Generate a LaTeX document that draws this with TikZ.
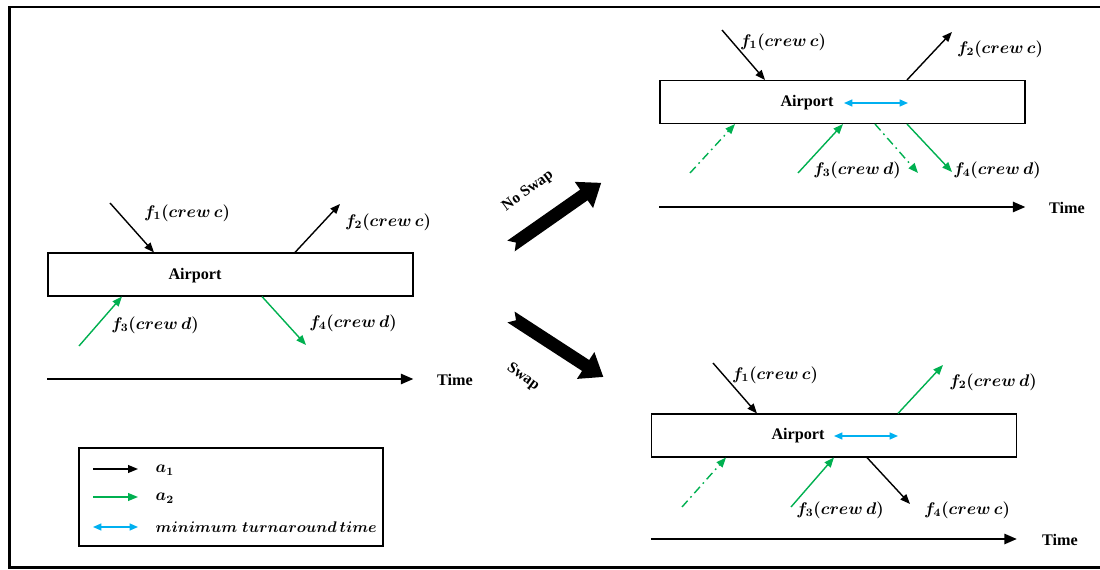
\documentclass[tikz,border=0pt]{standalone}
\usepackage{fontspec}
\setmainfont{Liberation Serif}
\usetikzlibrary{arrows.meta}
\definecolor{grn}{RGB}{0,176,80}
\definecolor{cyn}{RGB}{0,176,240}

\begin{document}
\begin{tikzpicture}[x=0.025cm, y=-0.025cm,
    font=\bfseries\fontsize{11.5}{13}\selectfont,
    airport/.style={draw, line width=0.8pt, minimum width=9.125cm, minimum height=1.075cm, inner sep=0pt},
    lbl/.style={font=\boldmath\fontsize{11.5}{13}\selectfont, inner sep=1pt},
    blk/.style={line width=1pt, -{Triangle[length=7pt,width=5.5pt]}},
    grnarr/.style={blk, grn},
    grndash/.style={grnarr, dash pattern=on 6pt off 3pt on 1.2pt off 3pt},
    cynarr/.style={line width=1pt, cyn, {Triangle[length=6pt,width=5pt]}-{Triangle[length=6pt,width=5pt]}},
    timeline/.style={line width=2pt, -{Triangle[length=9pt,width=7pt]}},
    blockarr/.pic={\fill (0,-6.5) -- (89,-6.5) -- (89,-16) -- (110,0) -- (89,16) -- (89,6.5) -- (0,6.5) -- (6,0) -- cycle;}]

    \useasboundingbox (0,0) rectangle (1100,570);
    \draw[line width=2pt] (9.5,7) rectangle (1116,567.5);

    % before the decision
    \node[airport] (apOrig) at (230.5,274.5) {};
    \node (apOrigTxt) at (195,276) {Airport};
    \draw[blk] (110,203) -- (154,0 |- apOrig.north);
    \draw[blk] (295,0 |- apOrig.north) -- (340,204);
    \draw[grnarr] (79,346) -- (122,0 |- apOrig.south);
    \draw[grnarr] (262,0 |- apOrig.south) -- (306,345);
    \node[lbl] (f1Orig) at (187,213) {$f_1(crew\,c)$};
    \node[lbl] (f2Orig) at (388,222) {$f_2(crew\,c)$};
    \node[lbl] (f3Orig) at (155,325) {$f_3(crew\,d)$};
    \node[lbl] (f4Orig) at (353,323) {$f_4(crew\,d)$};
    \draw[timeline] (apOrig.west |- 0,379) -- (apOrig.east |- 0,379);
    \node (timeOrig) at (455,380) {Time};

    % legend
    \node[draw, line width=0.8pt, minimum width=7.6cm, minimum height=2.45cm] (legend) at (231,497) {};
    \draw[blk] (93,469) -- (138,469);
    \draw[grnarr] (93,497) -- (138,497);
    \draw[cynarr] (93,527) -- (138,527);
    \node[lbl, anchor=west] (legA1) at (154,470) {$a_1$};
    \node[lbl, anchor=west] (legA2) at (154,498) {$a_2$};
    \node[lbl, anchor=west, font=\boldmath\fontsize{10.6}{12}\selectfont] (legMin) at (154,527) {$minimum\;turnaround\,time$};

    % the two outcomes
    \pic[rotate=35] at (511,246) {blockarr};
    \node[rotate=36, font=\bfseries\fontsize{11}{12}\selectfont] (noswap) at (528,191) {No Swap};
    \pic[rotate=-33] at (511,317) {blockarr};
    \node[rotate=-36, font=\bfseries\fontsize{11}{12}\selectfont] (swap) at (523,377) {Swap};

    % no swap
    \node[airport] (apNoSwap) at (842.5,102) {};
    \node (apNoSwapTxt) at (807,103) {Airport};
    \draw[cynarr] (844,103) -- (908,103);
    \draw[blk] (722,30) -- (765,0 |- apNoSwap.north);
    \draw[blk] (907,0 |- apNoSwap.north) -- (952,32);
    \draw[grndash] (690,173) -- (735,0 |- apNoSwap.south);
    \draw[grnarr] (798,173) -- (843,0 |- apNoSwap.south);
    \draw[grndash] (875,0 |- apNoSwap.south) -- (918,173);
    \draw[grnarr] (907,0 |- apNoSwap.south) -- (952,172);
    \node[lbl] (f1NoSwap) at (783,42) {$f_1(crew\,c)$};
    \node[lbl] (f2NoSwap) at (1000,49) {$f_2(crew\,c)$};
    \node[lbl] (f3NoSwap) at (857,170) {$f_3(crew\,d)$};
    \node[lbl] (f4NoSwap) at (997,170) {$f_4(crew\,d)$};
    \draw[timeline] (apNoSwap.west |- 0,207) -- (apNoSwap.east |- 0,207);
    \node (timeNoSwap) at (1067,208) {Time};

    % swap
    \node[airport] (apSwap) at (834,435.5) {};
    \node (apSwapTxt) at (798,436) {Airport};
    \draw[cynarr] (834,436) -- (898,436);
    \draw[blk] (713,363) -- (757,0 |- apSwap.north);
    \draw[grnarr] (898,0 |- apSwap.north) -- (943,365);
    \draw[grndash] (682,507) -- (726,0 |- apSwap.south);
    \draw[grnarr] (791,507) -- (834,0 |- apSwap.south);
    \draw[blk] (867,0 |- apSwap.south) -- (910,504);
    \node[lbl] (f1Swap) at (775,375) {$f_1(crew\,c)$};
    \node[lbl] (f2Swap) at (993,382) {$f_2(crew\,d)$};
    \node[lbl] (f3Swap) at (840,510) {$f_3(crew\,d)$};
    \node[lbl] (f4Swap) at (967,510) {$f_4(crew\,c)$};
    \draw[timeline] (apSwap.west |- 0,539) -- (apSwap.east |- 0,539);
    \node (timeSwap) at (1060,540) {Time};
\end{tikzpicture}
\end{document}
